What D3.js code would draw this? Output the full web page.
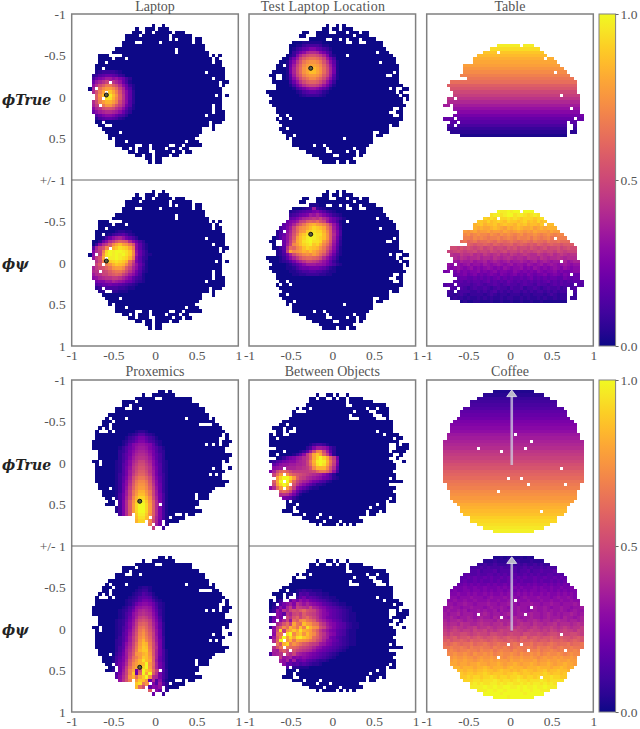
<!DOCTYPE html>
<html lang="en">
<head>
<meta charset="UTF-8">
<title>Cost maps</title>
<script src="https://d3js.org/d3.v7.min.js"></script>
<style>
  body { margin: 0; background: #fff; }
  svg { display: block; }
  text { font-family: "Liberation Serif", serif; fill: #555; }
  .title { font-size: 14px; text-anchor: middle; }
  .tick text { font-size: 13.5px; fill: #555; }
  .rowlabel { font-family: "DejaVu Serif", serif; font-weight: bold; font-style: italic; font-size: 14px; fill: #222; }
</style>
</head>
<body>
<svg width="640" height="729"></svg>
<script>
// masks: occupied cells of the 50x50 grid, one string of column runs per row
const maskLaptop = ["","","","24 27","19 22-24 26-28","18-20 22-23 25-29 31-33","16-19 21-28 30-35","16-28 30 32-35 37-38","15-18 21-25 27-35 37-38","15-39","13-30 32-39","12-30 32-40","8-10 15-40 42 44","8-11 13-15 17-41 43","8-9 11-41 43-44","7-44","7-8 10-45","7-39 41-45","6-45","6-41 43-45","6-10 12-43 45-46","6-43 45","5-6 8-44","6-9 11-44","7-42 44 46","7-8 10-44","6-44","6-7 9-41 43-44","6-41 43-44","6-41 43-45","7-39 41-45","7-45","7-8 10-40 42-44","8-9 12-40 42","9-38 42","10-13 15-38","11-37","11 13-36","13-15 17-33 35-37","13-18 21-22 24-28 31-32 34-38","15-16 18-18 20-22 24-27 29-31 33-34","17-18 20-22 25-29 31-32 34-35","19-20 22-23 25-28 30-31","22-23 25-26","23 25-26"];
const maskTest = ["","","","23 26 28","22-23 25-26 28-30","16-17 20-23 26-28 30-32 34-35","15-16 20-30 32-35","18-22 25-26 28 30-32 34-37","13-28 31-32 35-39","12-39","12-40","12-37 39-41","11-28 30-42","10-43","9-38 40-43","8-9 11-44","8-44","7-42 44","6-7 10-40 43-44","7 10-44","7-44","8-45","8-41 43 46-47","5-43 45","6-44 46-47","7-45 47","6-45","7-46","8-42 45","8-41 44-45","9-10 12-42 45","8 10-11 13-45","9-44","10-41 43-44","9-10 12-41","10-36 39-41","11-12 14-36 38-39","11 13-27 29-36","13-36","13-18 20-21 23-35","15-22 24-30 32-34","17-22 25-28 30-31 33-34","19-24 27-31 33","21-30","22-25 27-28 30-31"];
const maskTable = ["","","","","","","","","","21-27 29-31","19-33","17-20 22-34","15-35","14-34 36-37","14-38","11-39","11-40","11-37 39-41","10-42","12-43","7-9 10-44","6-44","7-44","8-44","8-39 41-45","6-7 9-45","6-45","5-6 8-45","8-42 44-45","9-45","8-46","5-7 9-43 45-46","7-8 10-41 43-44","6-7 9-41 44","6-41 44","7-41 43-44","10-41"];
const maskProxemics = ["","","","26-27 29","21 24-30","19-24 27-35","15-18 20-35","15-16 18-37","13-15 18-19 21-39","13-39","11-40","10 12-15 17-33 35-40 42","9-11 13-42","9-10 12-37 42-43","8 10 12-44","7 11 13-45","7-44 46","7-43 46","6-43 45-47","6-39 41 43 45-46","6-45","8-45","8-47","8-46","6-7 9-44 46","7 9-44","7-41 43-44 47","7-45","7-40 42 44","7-44","7-46","8-45","8-10 12-42","9-41","9-36 38-40","10-11 13-36 38-40","11-12 14-37","10-12 14-25 27-37","13-36","13-38","14-17 19-30 33 35-36","19-22 24-28 30-33","19-21 23-26 28-31","23 25-26 28","24 27"];
const maskBetween = ["","","","","20 23-24 26 29","18-19 21-22 25 27-28 30-33","18-28 30-36","17-28 31-40","14 16-17 19-34 36-37 39-41","13 17-30 32-35 38-41","13-29 31-36 40-41","12-29 33-37 41","10-42","9-10 12-42","7-9 11-12 14-42","8-9 11 14-37 39-42","6 8-9 12-39 41-44","6-7 9-42 44-45","6-44","6-41 44 46-47","8-41 44-47","6-9 11-41 43-46","6-7 9-42 45","8-41 44","6-42 46","7-43","7-9 11-43","6-42","7-9 11-43","8-41 43","7-9 11-45","7-11 13-41","6-9 11-43","9-42","9-43","10-41 43","11 13-40 42-43","11-13 15-37 39-40","11-12 14-35 37-40","10-12 15-34 36-38 40","13-15 17-20 22-34 36-37","16-19 21-23 25-32","18-21 23-26 28-33","20 22-25 27 29 31"];
const maskCoffee = ["","","","20-31","17-34","15-36","13-38","13-38","11-40","10-41","10-41","9-42","8-43","7-44","7-44","7-44","6-25 27-45","6-45","5-30 32-46","5-46","5-14 16-28 30-46","5-21 23-46","5-46","5-46","5-46","5-46","5-39 41-46","5-46","5-46","5-23 25-27 29-46","5-46","6-29 31-40 42-45","6-45","7-20 22-44","7-44","7-44","8-43","9-42","10-41","10-33 35-41","11-40","13-38","13-38","15-36","17-34","20-31"];

// cell levels in base 36 (0..z = 0..1), each block has a first row and first column
const laptopTrueRow = 17, laptopTrueCol = 6;
const laptopTrue = ["0123333210000","2356776532000","479accab97420","7bdfhhfdb7410","aeiknnkiea731","dhmprrpmhd851","ejosvvsojea62","fkquyyuqkfa62","fkptxxtpkfa62","eiorttroiea52","dgjnqqnjgd851","adfijjifda631","7acdeedca7420","4579aa9754200","1245665421000"];
const laptopPsiRow = 15, laptopPsiCol = 6;
const laptopPsi = ["000000012211000000","000001345642100000","000147acdb86420000","0027aegjlkjea74200","03aegkpsurqnja6310","5dhjpttvxwvsna6310","9egowzyzzyxvpb7420","aegqxzyzyzxvpc7421","bgjsvyyzyxwtna6320","cfiouvwxwvtmh96310","chkmoqtvutpkfb7410","dgijlnqrrpkhda6310","efghikmnnlifc85210","cefhhjklkhfca74100","abdeffggfdb9643100","6899bbdcba87532100","356778776543210000","123444443321100000","011222221110000000"];
const testTrueRow = 8, testTrueCol = 11;
const testTrue = ["0000011111100000","0001134444311000","0013467997643100","00358adeeda85300","0139dgijjigd9310","048chkmnnmkhc840","16afjnpqqpnjfa61","17chlprssrplhc71","18dimqsuusqmid81","18dimqsuusqmid81","16chkoqrrqokhc61","15aeilnppnliea51","037bfikllkifb730","0148beghhgeb8410","001468abba864100","0001245665421000","0000123333210000"];
const testPsiRow = 7, testPsiCol = 8;
const testPsi = ["0000000000111000000000","00000000123c3210000000","0000123456689753210000","0002345789cbdb97532100","0023679bdefgfhec975310","13579acghklkmjhc974100","1368adhknqstrqolgb7200","1469chmpqsuwvusnjc8300","247adimqrvwxwwtpkd9400","257bejotvxyyxxuqke9400","258bfkruwyzyxwuqkd8300","147bgmsuxyzxxwrojc7200","137chpruwxyvwtpmhb6200","136fmlpruwvutqnjfa5100","125hspqrtsusqomhd94100","1248dilnpqprpmjfb73100","0136adgjlmmlkieb852000","012358bdfhhgfdb9631000","00012468acccbba8642100","0001124677888764210000","0000112344554432110000","0000011223333221100000"];
const proxTrueRow = 15, proxTrueCol = 13;
const proxTrue = ["0000001221000000","0000123553210000","0001346886431000","0012457997542100","001369abba963100","013579bccb975310","02358acddca85320","02468bdeedb86420","02469ceffec96420","1247adfhhfda7421","1257aegiigea7521","1258bfhjjhfb8521","1258cfikkifc8521","1358cgjlljgc8531","1369dilnnlid9631","136aejnppnjea631","137afkoqqokfa731","137bglprrplgb731","137chnqttqnhc731","148chnruurnhc841","148diptwwtpid841","149ekqvyyvqke941","149ekrwzzwrke941","149ekrwzzwrke941","149ekrwzzwrke941","149ekqvyyvqke941","149djpuxxupjd941","148diptwwtpid841","148chnruurnhc841","137cgmqssqmgc731","137bglprrplgb731"];
const proxPsiRow = 12, proxPsiCol = 12;
const proxPsi = ["000000001221000000","000000012331000000","000000123543100000","000001235665210000","000012346887421000","000012479aa9742100","0001246abccb852100","0012358bdedc963100","001246acefeda73100","001247adghgeb84100","012358bfijigc95100","012369cgklkhda6200","012469dhmnliea6200","01247aeinpmjfb7200","01257bfjoqnkgb7200","01358cgkprolgc7300","02358cgkqtpmhc8300","0236adhmrutnid8300","0246beinsvuoie8300","0247cfjotvvpjd8410","0358cgkqrtuqjd8410","1469chmorvurkd7410","1479djnqtxuskc7410","158aekprtuzqld8510","158bgmqstwzrkd8510","258chos8jzvtmg9520","259dhov7lzszkf8420","26aeiqtmsvzqed8420","37bfjotrvuq7e5a310","4bdgmrsvxnq895c520","5aelnsuumix6a9b720","4bhkmprsuiwk8a7520","000000qi8vyn7a6310","000000k9d8xt5a6310","000000000k5c6a3100"];
const betweenTrueRow = 19, betweenTrueCol = 6;
const betweenTrue = ["000000000000134431000","00000000000249ccb9420","000000000136ciopic620","0000000136aglsvslg920","00013689bceglswzwslg8","135689aacdehntyzytnh9","368abbccddehmsxzxsmg8","8abcddddeefgjptttpje6","8dilmkiggggghilnnlhb4","bhmrtqmkjihgfedca8520","ejrwzzwrkhgedcba87521","fkszzzslhfdca87542100","dirwzwrjfca8642210000","aemrtrmga864211000000","7bhkmkhb7421000000000","38befeb84100000000000","0367876310000000000000"];
const betweenPsiRow = 13, betweenPsiCol = 6;
const betweenPsi = ["00000000123221110000000000","00000013154533221100000000","00000135368565432211000000","0013596a8b9a876543211000","01258ac9fdbdba9865432110","025a7dgbhgfehdca9765432110","13b8fdhjikmjiheca876543210","15a96fdhigkihgeca9765432110","27b8chfjlhkmjhfca8765432110","38cadhbmkpqnmkgeca976532110","49dfjmhsnmurqnmhfca97653211","2ahkpmtqnuoxtqpjhdb97653211","5bjxgqsvsxtsrnkgdb986542110","3amnswzptvqurplhfca96542110","6ckpzrwsxyvtrmkhec875432110","3elzyqtnsrqpnligda976432110","5dnjtwnqomkjhgfcb9865432110","9fjnlnmlkihgfdba876543210","6dcikhijhgfedb98765432100","4cdfjgehdcba9876543210000","2c8gbcd9a9a987654321000000","169cad7c678654322100000000","0148a67564543221000000000","0012354221110000000000"];
const tablePsiRow = 9, tablePsiCol = 5;
const tablePsi = [
"                zyyzyzzyzzzyz",
"              xyyxyzzxyyxwxyx",
"            wvxwvwwxwxwvwwwvwx",
"          vvuwuvwvuwvvuvwuvuwuvv",
"         tuvtuuvtuvuutvuvtuutvtuuv",
"         tstsstutsrtstutsstrststt",
"      rqrsqrrsqrrqsrqrsrqrqsrrrqsr",
"      pqopqppoqpoqpqpopqoppqpopqpop",
"      oonpoponoopnoponpoopnponopnoo",
"     mnlmnlmmnmlnmlmnmlmnmlnmmlnmmnm",
"     kjlkjkklkjlkjkkljklkjkjlkjklkkjk",
"  iihjijihijhijhiihjijhiihjihijhiijhiji",
" hghihghhighhgihghighhgighghihghhgihgh",
"  feegffgefegfefgefegfefgfeegfefgefgfef",
"   edfedeefdeedfedefedeedfeedfedeefedee",
"   cbdccdbccdbcdcbcdbccdcbcdbcdcbcccdbcd",
" bacbabcabbacbabcbabcabbacbabcabcbabcbab",
" a9aba9ab9a9aba9a9ba9aab9a9ba9a9aba9ba9a",
"8998a89899a8989a89988a989898a9899a89889a",
"   788978978789879878978798788978987987",
"    677667676767867676676786767677668767",
"   6565656656756565765656565656756565656",
"565465554565455654565545655465545656 545",
"  54454345445434544354453445434544534 45",
" 43434443343434534343443434344343434 4 ",
" 3323432333323432332333233233323432 3",
"  2323232232323223233223232232322 23",
"     121122111211211211211211211111"];
const coffeePsiRow = 3, coffeePsiCol = 5;
const coffeePsi = [
"               112121112121",
"            222322232232223222",
"          3343343334334343343433",
"        44454544454445445454454544",
"        55645556455565455645565556",
"      665565566565656655656565566565",
"     66767667676676766767667667667676",
"     67667676676766767676667676676767",
"    7787878778787787878778787787878787",
"   888988988988898988989888989889889889",
"  89889989989898998998989899899898989899",
"  99a99a9a99a9a99a9a99a9a9a99a9a99a9a9a9",
"  aa9aaabaaa9abaaabaaa9abaaabaaa9abaaba9",
" aabaabaabaaabaabaabaabaabaaabaabaabaabaa",
" bbabbcbbabbbcbbabbcbbabbbcbbabbcbbabbbcb",
"bbcbbabbcbbbabcbbcbabbcbbabcbbcbabbcbbabbc",
"bcbbcbcabbcbcbbcacbbcbcbbabcbbcbcbbcbabcbb",
"cbccdbcccbccdcbccbcdcbccbcdccbcdcbcbccdcbc",
"ccdcbccdcbcdccbdcccbcdcbccdccbcdcccbdccbcd",
"dcddedcddcdedddcedddcdedcddedcddcdeddcddcd",
"edeedfeeddefeedeefdeedefeedfeedeefdeeedefe",
"fefgffeffgeffgfefffgefgffefgfeffgfefgfeffg",
"gfghgfggfhgghfgfghggfhggfghggfgfhgfghggfhg",
"hgihhiihghihhgiihhghihhgiihhihghiihghhiihg",
"jijkijjkijkjijjkjijkjjiklijkjijjkjikjjijkj",
"kljkklkjlkklkjklkkjklkjlkklkjkkjlkklkjklkj",
"mlmnmlmmnlmmnmlmnmmlmnmlmmnlmmlmnmlmmnlmmn",
" nonnonmonnonnmonnonmnonnonmonnonmnonnonn",
" oponoopoonpoopnopoonpoonpoopnooponopoopo",
"  pqppqpoqppqpqopqppqpoqppqpqopqppqpopqp",
"  qrqqrqqpqrqqrqrqpqrqqrqqrqpqrqqrqrqqrq",
"  rsrrsrrqrsrrsrsrrqsrrsrrrsqrrsrrsrrsrr",
"   srssrsstssrsstsrsstsrsstsrsstsrsstssr",
"    tstttsttutstttstutttstttutttsttutst",
"     utuutuuvuutuvuututuvuutuuvtuuvuut",
"     vuvvuvvwvuvvvuvvwvuvvuvvvwvuvvuvv",
"      vwvwwvwwxwvwwvwwxwvwwvwvwwxwwv",
"        wxxwxxxyxwxxwxyxxwxxxyxwxx",
"        xyxyxxyyxyxyyxxyxyxyyxyxyx",
"          yyzyyzyyzzyyzyzyyzyyzy",
"            yzzyzzyzzzzyzzyzzy",
"               zzyzzzzzzyzz",
"               zzzzyzzzzzzz"];

// row values of the two noise free maps
const tableTrueRow = 9;
const tableTrue = [.97,.93,.88,.85,.82,.8,.78,.75,.72,.69,.66,.63,.58,.55,.5,.47,.43,.39,.35,.31,.27,.23,.19,.16,.12,.08,.05,.02];
const coffeeTrueRow = 3;
const coffeeTrue = [.03,.05,.08,.1,.12,.14,.17,.19,.21,.24,.26,.28,.3,.33,.35,.37,.39,.41,.44,.46,.48,.5,.53,.55,.58,.6,.62,.65,.67,.69,.72,.74,.76,.78,.81,.83,.85,.87,.9,.92,.94,.96,.98];

const titlesTop = ["Laptop", "Test Laptop Location", "Table"];
const titlesBottom = ["Proxemics", "Between Objects", "Coffee"];
const xTicks = [-1, -0.5, 0, 0.5, 1];
const xTickLabels = ["-1", "-0.5", "0", "0.5", "1"];
const yTicksUpper = [-1, -0.5, 0, 0.5, 1];
const yLabelsUpper = ["-1", "-0.5", "0", "0.5", "+/- 1"];
const yTicksLower = [-0.5, 0, 0.5, 1];
const yLabelsLower = ["-0.5", "0", "0.5", "1"];
const barTicks = [0, 0.5, 1];
const barLabels = ["0.0", "0.5", "1.0"];
const laptopDot = [-0.584, -0.024];
const testDot = [-0.259, -0.346];
const proxDot = [-0.183, 0.461];
const arrowUpper = [[0.021, 0.024], [0.021, -0.8], [-0.88]];
const arrowLower = [[0.021, 0.02], [0.021, -0.79], [-0.87]];

const svg = d3.select("svg");
const panelW = 166.6, panelH = 166;
const lefts = [71.7, 249, 426.7];
const tops = [14, 180, 380, 546];
const color = d3.scaleSequential(d3.interpolatePlasma).domain([0, 1]);
const col = d3.scaleBand().domain(d3.range(50)).range([0, panelW]);
const row = d3.scaleBand().domain(d3.range(50)).range([0, panelH]);
const x = d3.scaleLinear().domain([-1, 1]).range([0, panelW]);
const y = d3.scaleLinear().domain([-1, 1]).range([0, panelH]);

function runs(s) {
  const out = [];
  if (!s) return out;
  s.split(" ").forEach(p => {
    const [a, b] = p.split("-").map(Number);
    d3.range(a, (b === undefined ? a : b) + 1).forEach(i => out.push(i));
  });
  return out;
}
// outside a hot block the cell is background
function fromBlock(rows, r0, c0) {
  return (j, i) => {
    const s = rows[j - r0];
    const ch = s ? s[i - c0] : undefined;
    const n = ch === undefined ? NaN : parseInt(ch, 36);
    return isNaN(n) ? 0 : n / 35;
  };
}
// full maps: a cell past the written part of a row takes the nearest written one
function fromFullBlock(rows, r0, c0) {
  return (j, i) => {
    const s = rows[j - r0];
    if (!s) return 0;
    const first = s.search(/\S/), last = s.trimEnd().length - 1;
    let ch = s[Math.max(first, Math.min(last, i - c0))];
    if (ch === " ") ch = s[last];
    return parseInt(ch, 36) / 35;
  };
}
function fromRows(vals, r0) {
  return j => vals[j - r0];
}

function drawPanel(left, top, mask, valueAt) {
  const g = svg.append("g").attr("transform", `translate(${left},${top})`)
    .attr("shape-rendering", "crispEdges");
  const cells = [];
  mask.forEach((s, j) => runs(s).forEach(i => cells.push({ j, i, v: valueAt(j, i) })));
  g.selectAll("rect").data(cells).join("rect")
    .attr("x", d => col(d.i))
    .attr("y", d => row(d.j))
    .attr("width", col.bandwidth() + 0.3)
    .attr("height", row.bandwidth() + 0.3)
    .attr("fill", d => color(d.v));
  return g;
}
function frame(left, top) {
  svg.append("rect").attr("x", left).attr("y", top).attr("width", panelW).attr("height", panelH * 2)
    .attr("fill", "none").attr("stroke", "#808080").attr("stroke-width", 1.5);
  svg.append("line").attr("x1", left).attr("x2", left + panelW)
    .attr("y1", top + panelH).attr("y2", top + panelH)
    .attr("stroke", "#666").attr("stroke-width", 1);
}
function dot(g, p) {
  g.append("circle").attr("cx", x(p[0])).attr("cy", y(p[1])).attr("r", 2)
    .attr("shape-rendering", "auto")
    .attr("fill", "#5a5a40").attr("stroke", "#111").attr("stroke-width", 1);
}
function arrow(g, a) {
  g.append("line").attr("x1", x(a[0][0])).attr("y1", y(a[0][1]))
    .attr("x2", x(a[1][0])).attr("y2", y(a[1][1]))
    .attr("shape-rendering", "auto")
    .attr("stroke", "#cfcfe0").attr("stroke-opacity", 0.75).attr("stroke-width", 2.6);
  const cx = x(a[0][0]);
  g.append("path")
    .attr("d", `M${cx},${y(a[2][0])}L${cx + 5},${y(a[1][1])}L${cx - 5},${y(a[1][1])}Z`)
    .attr("shape-rendering", "auto")
    .attr("fill", "#b9b9c8").attr("stroke", "#e8e8f0").attr("stroke-width", 0.8);
}
function axes(left, top, isFirst, isBottom) {
  if (isBottom) {
    const ax = svg.append("g").attr("transform", `translate(${left},${top + panelH})`)
      .call(d3.axisBottom(x).tickValues(xTicks).tickSize(0).tickPadding(4)
        .tickFormat((d, i) => xTickLabels[i]));
    ax.select(".domain").remove();
  }
  if (isFirst) {
    const vals = top === tops[0] || top === tops[2] ? yTicksUpper : yTicksLower;
    const labs = top === tops[0] || top === tops[2] ? yLabelsUpper : yLabelsLower;
    const ay = svg.append("g").attr("transform", `translate(${left - 2},${top})`)
      .call(d3.axisLeft(y).tickValues(vals).tickSize(0).tickPadding(4)
        .tickFormat((d, i) => labs[i]));
    ay.select(".domain").remove();
  }
}

// column order: laptop, test, table on top, proxemics, between, coffee below
const gLaptop1 = drawPanel(lefts[0], tops[0], maskLaptop, fromBlock(laptopTrue, laptopTrueRow, laptopTrueCol));
const gLaptop2 = drawPanel(lefts[0], tops[1], maskLaptop, fromBlock(laptopPsi, laptopPsiRow, laptopPsiCol));
const gTest1 = drawPanel(lefts[1], tops[0], maskTest, fromBlock(testTrue, testTrueRow, testTrueCol));
const gTest2 = drawPanel(lefts[1], tops[1], maskTest, fromBlock(testPsi, testPsiRow, testPsiCol));
drawPanel(lefts[2], tops[0], maskTable, fromRows(tableTrue, tableTrueRow));
drawPanel(lefts[2], tops[1], maskTable, fromFullBlock(tablePsi, tablePsiRow, tablePsiCol));
const gProx1 = drawPanel(lefts[0], tops[2], maskProxemics, fromBlock(proxTrue, proxTrueRow, proxTrueCol));
const gProx2 = drawPanel(lefts[0], tops[3], maskProxemics, fromBlock(proxPsi, proxPsiRow, proxPsiCol));
drawPanel(lefts[1], tops[2], maskBetween, fromBlock(betweenTrue, betweenTrueRow, betweenTrueCol));
drawPanel(lefts[1], tops[3], maskBetween, fromBlock(betweenPsi, betweenPsiRow, betweenPsiCol));
const gCoffee1 = drawPanel(lefts[2], tops[2], maskCoffee, fromRows(coffeeTrue, coffeeTrueRow));
const gCoffee2 = drawPanel(lefts[2], tops[3], maskCoffee, fromFullBlock(coffeePsi, coffeePsiRow, coffeePsiCol));

dot(gLaptop1, laptopDot); dot(gLaptop2, laptopDot);
dot(gTest1, testDot); dot(gTest2, testDot);
dot(gProx1, proxDot); dot(gProx2, proxDot);
arrow(gCoffee1, arrowUpper); arrow(gCoffee2, arrowLower);

lefts.forEach((l, k) => {
  frame(l, tops[0]); frame(l, tops[2]);
  [0, 1, 2, 3].forEach(t => axes(l, tops[t], k === 0, t === 1 || t === 3));
  const tt = svg.append("text").attr("class", "title").attr("x", k === 1 ? 323 : l + panelW / 2).attr("y", 11).text(titlesTop[k]);
  if (k === 1) tt.style("letter-spacing", "0.25px");
  svg.append("text").attr("class", "title").attr("x", l + panelW / 2).attr("y", 376).text(titlesBottom[k]);
});

// colour bars
const defs = svg.append("defs");
const grad = defs.append("linearGradient").attr("id", "plasma").attr("x1", 0).attr("x2", 0).attr("y1", 1).attr("y2", 0);
d3.range(0, 1.01, 0.05).forEach(t => grad.append("stop").attr("offset", t).attr("stop-color", color(t)));
const barY = d3.scaleLinear().domain([0, 1]).range([panelH * 2, 0]);
[tops[0], tops[2]].forEach(t => {
  svg.append("rect").attr("x", 599).attr("y", t).attr("width", 16.6).attr("height", panelH * 2)
    .attr("fill", "url(#plasma)").attr("stroke", "#808080").attr("stroke-width", 1);
  const ab = svg.append("g").attr("transform", `translate(615.6,${t})`)
    .call(d3.axisRight(barY).tickValues(barTicks).tickSize(3).tickPadding(2)
      .tickFormat((d, i) => barLabels[i]));
  ab.select(".domain").remove();
  ab.selectAll("line").attr("stroke", "#666");
});

// row names
const rowNames = [["\u03d5True", 100], ["\u03d5\u03c8", 264], ["\u03d5True", 465], ["\u03d5\u03c8", 630]];
rowNames.forEach(d => {
  svg.append("text").attr("class", "rowlabel").attr("x", 2).attr("y", d[1] + 5).text(d[0]);
});
</script>
</body>
</html>
